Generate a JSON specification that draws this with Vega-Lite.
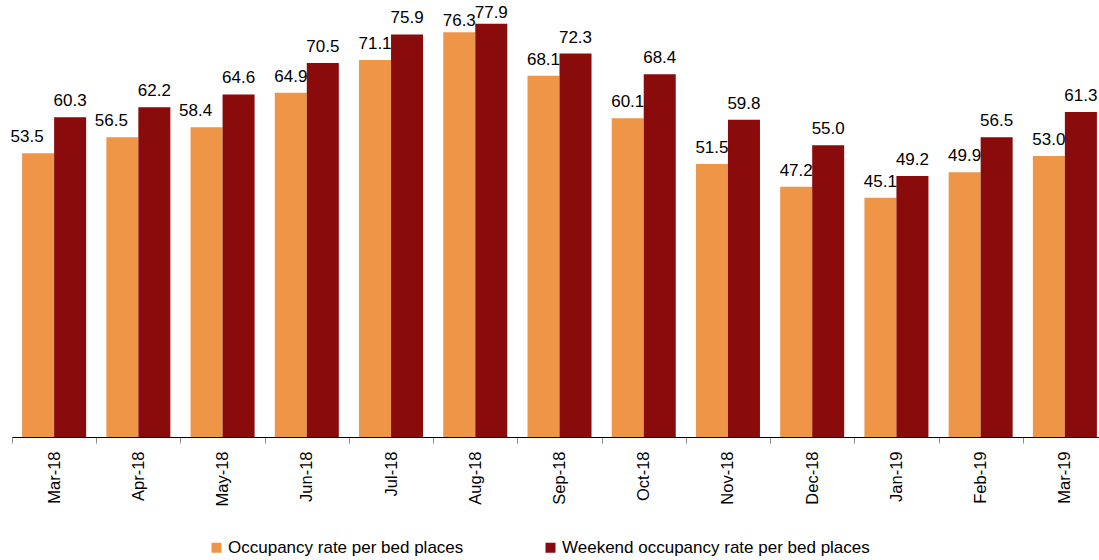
{
  "$schema": "https://vega.github.io/schema/vega-lite/v6.json",
  "width": 1095,
  "height": 437,
  "autosize": {"type": "none"},
  "padding": {"left": 12, "top": 0, "right": 0, "bottom": 123},
  "data": {
    "values": [
      {"month": "Mar-18", "series": "Occupancy rate per bed places", "value": 53.5},
      {"month": "Mar-18", "series": "Weekend occupancy rate per bed places", "value": 60.3},
      {"month": "Apr-18", "series": "Occupancy rate per bed places", "value": 56.5},
      {"month": "Apr-18", "series": "Weekend occupancy rate per bed places", "value": 62.2},
      {"month": "May-18", "series": "Occupancy rate per bed places", "value": 58.4},
      {"month": "May-18", "series": "Weekend occupancy rate per bed places", "value": 64.6},
      {"month": "Jun-18", "series": "Occupancy rate per bed places", "value": 64.9},
      {"month": "Jun-18", "series": "Weekend occupancy rate per bed places", "value": 70.5},
      {"month": "Jul-18", "series": "Occupancy rate per bed places", "value": 71.1},
      {"month": "Jul-18", "series": "Weekend occupancy rate per bed places", "value": 75.9},
      {"month": "Aug-18", "series": "Occupancy rate per bed places", "value": 76.3},
      {"month": "Aug-18", "series": "Weekend occupancy rate per bed places", "value": 77.9},
      {"month": "Sep-18", "series": "Occupancy rate per bed places", "value": 68.1},
      {"month": "Sep-18", "series": "Weekend occupancy rate per bed places", "value": 72.3},
      {"month": "Oct-18", "series": "Occupancy rate per bed places", "value": 60.1},
      {"month": "Oct-18", "series": "Weekend occupancy rate per bed places", "value": 68.4},
      {"month": "Nov-18", "series": "Occupancy rate per bed places", "value": 51.5},
      {"month": "Nov-18", "series": "Weekend occupancy rate per bed places", "value": 59.8},
      {"month": "Dec-18", "series": "Occupancy rate per bed places", "value": 47.2},
      {"month": "Dec-18", "series": "Weekend occupancy rate per bed places", "value": 55.0},
      {"month": "Jan-19", "series": "Occupancy rate per bed places", "value": 45.1},
      {"month": "Jan-19", "series": "Weekend occupancy rate per bed places", "value": 49.2},
      {"month": "Feb-19", "series": "Occupancy rate per bed places", "value": 49.9},
      {"month": "Feb-19", "series": "Weekend occupancy rate per bed places", "value": 56.5},
      {"month": "Mar-19", "series": "Occupancy rate per bed places", "value": 53.0},
      {"month": "Mar-19", "series": "Weekend occupancy rate per bed places", "value": 61.3}
    ]
  },
  "encoding": {
    "x": {
      "field": "month",
      "type": "nominal",
      "sort": null,
      "scale": {"paddingInner": 0, "paddingOuter": 0},
      "axis": {
        "title": null,
        "labelAngle": -90,
        "labelFontSize": 16.5,
        "labelFont": "Liberation Sans",
        "labelColor": "#000000",
        "labelPadding": 8,
        "domainColor": "#000000",
        "domainWidth": 1,
        "tickColor": "#8c8c8c",
        "tickSize": 6,
        "tickBand": "extent"
      }
    },
    "xOffset": {
      "field": "series",
      "type": "nominal",
      "sort": ["Occupancy rate per bed places", "Weekend occupancy rate per bed places"],
      "scale": {"paddingInner": 0, "paddingOuter": 0.316}
    },
    "y": {
      "field": "value",
      "type": "quantitative",
      "scale": {"domain": [0, 82.4], "nice": false},
      "axis": null
    }
  },
  "layer": [
    {
      "mark": {"type": "bar"},
      "encoding": {
        "color": {
          "field": "series",
          "type": "nominal",
          "sort": ["Occupancy rate per bed places", "Weekend occupancy rate per bed places"],
          "scale": {"range": ["#EE9548", "#8A0B0B"]},
          "legend": {
            "orient": "none",
            "legendX": 196,
            "legendY": 539,
            "title": null,
            "direction": "horizontal",
            "symbolType": "square",
            "symbolSize": 100,
            "symbolStrokeWidth": 0,
            "labelFontSize": 17,
            "labelFont": "Liberation Sans",
            "labelColor": "#000000",
            "labelOffset": 3,
            "labelLimit": 0,
            "columnPadding": 78
          }
        }
      }
    },
    {
      "transform": [
        {"filter": "datum.value < 76"},
        {"filter": {"not": {"and": [
          {"field": "month", "oneOf": ["Mar-18", "Apr-18", "May-18"]},
          {"field": "series", "equal": "Occupancy rate per bed places"}
        ]}}}
      ],
      "mark": {"type": "text", "baseline": "alphabetic", "dy": -11, "fontSize": 17, "font": "Liberation Sans", "color": "#000000"},
      "encoding": {
        "text": {"field": "value", "type": "quantitative", "format": ".1f"}
      }
    },
    {
      "transform": [
        {"filter": {"and": [
          {"field": "month", "oneOf": ["Mar-18", "Apr-18", "May-18"]},
          {"field": "series", "equal": "Occupancy rate per bed places"}
        ]}}
      ],
      "mark": {"type": "text", "baseline": "alphabetic", "dy": -11, "dx": -11, "fontSize": 17, "font": "Liberation Sans", "color": "#000000"},
      "encoding": {
        "text": {"field": "value", "type": "quantitative", "format": ".1f"}
      }
    },
    {
      "transform": [{"filter": "datum.value >= 76"}],
      "mark": {"type": "text", "baseline": "alphabetic", "dy": -6, "fontSize": 17, "font": "Liberation Sans", "color": "#000000"},
      "encoding": {
        "text": {"field": "value", "type": "quantitative", "format": ".1f"}
      }
    }
  ],
  "config": {"view": {"stroke": null}}
}
